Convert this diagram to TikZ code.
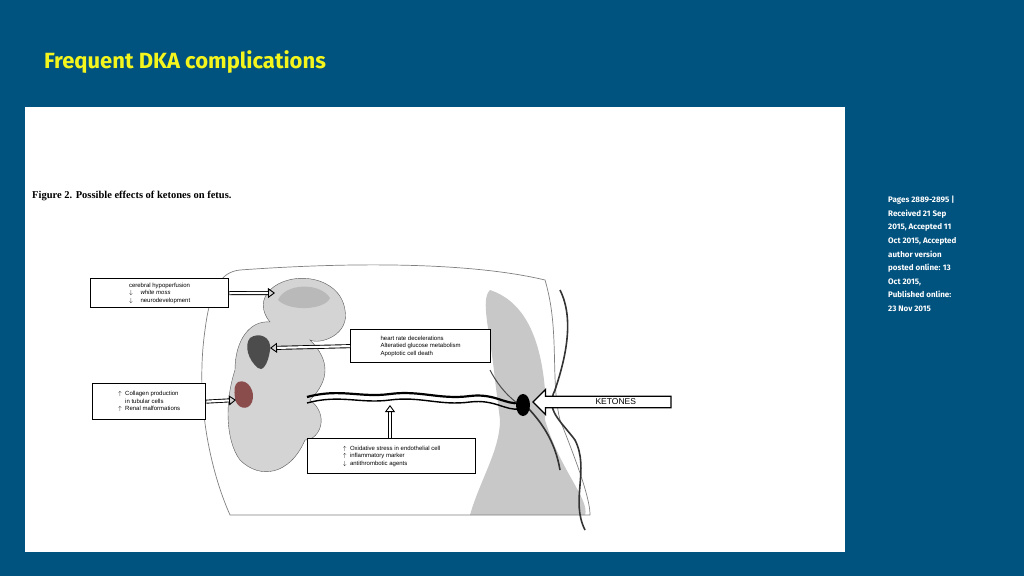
\documentclass[tikz,border=0pt]{standalone}
\usepackage{fontspec}
\setmainfont{Liberation Serif}
\newfontfamily\fira{Fira Sans}
\newfontfamily\lsans{Liberation Sans}
\usetikzlibrary{shapes.arrows}
\definecolor{bg}{HTML}{00527F}
\definecolor{ttl}{HTML}{F5F51E}
\definecolor{fet}{HTML}{D4D4D4}
\definecolor{ut}{HTML}{C8C8C8}
\tikzset{
 lbl/.style={draw=black,line width=1.3pt,fill=white,align=left,font=\lsans\fontsize{6}{7.5}\selectfont,inner sep=3pt,anchor=north west},
 dbl/.style={double=white,double distance=2.2pt,line width=0.9pt,-{Triangle[open,length=7pt,width=10pt]}},
 info/.style={font=\fira\bfseries\fontsize{8}{13.6}\selectfont,text=white,align=left,anchor=north west,inner sep=0pt}
}
\usetikzlibrary{arrows.meta}
\begin{document}
\begin{tikzpicture}[x=1pt,y=-1pt]
\fill[bg] (0,0) rectangle (1024,576);
\useasboundingbox (0,0) rectangle (1024,576);
\node[anchor=west,text=ttl,font=\fira\bfseries\fontsize{22}{24}\selectfont,inner sep=0pt] (title) at (44,62) {Frequent DKA complications};
\fill[white] (25,107) rectangle (845,552);
\node[anchor=west,font=\bfseries\fontsize{10.5}{12}\selectfont,inner sep=0pt] (cap) at (32,196) {Figure 2. Possible effects of ketones on fetus.};
% uterus
\fill[ut] (490,290) .. controls (520,300) and (540,330) .. (545,390) -- (545,420) .. controls (560,470) and (590,500) .. (585,515) -- (470,515) .. controls (480,480) and (500,450) .. (500,420) -- (495,380) .. controls (490,330) and (480,300) .. (490,290) -- cycle;
% amniotic outline
\draw[gray,line width=0.7pt] (240,270) .. controls (350,262) and (470,262) .. (545,280) .. controls (560,330) and (550,380) .. (560,420) .. controls (580,470) and (590,500) .. (590,515) -- (230,515) .. controls (210,470) and (195,400) .. (205,330) .. controls (210,290) and (220,272) .. (240,270) -- cycle;
% fetus
\fill[fet] (270,290) .. controls (290,270) and (340,275) .. (345,310) .. controls (350,335) and (320,345) .. (310,340)
 .. controls (330,360) and (330,380) .. (310,400) .. controls (330,415) and (320,440) .. (305,440)
 .. controls (290,475) and (260,480) .. (240,460) .. controls (225,440) and (225,400) .. (235,370)
 .. controls (235,340) and (250,320) .. (270,322) .. controls (260,310) and (262,298) .. (270,290) -- cycle;
\draw[gray!70!black,line width=0.4pt] (270,290) .. controls (290,270) and (340,275) .. (345,310) .. controls (350,335) and (320,345) .. (310,340)
 .. controls (330,360) and (330,380) .. (310,400) .. controls (330,415) and (320,440) .. (305,440)
 .. controls (290,475) and (260,480) .. (240,460) .. controls (225,440) and (225,400) .. (235,370)
 .. controls (235,340) and (250,320) .. (270,322) .. controls (260,310) and (262,298) .. (270,290);
% brain, heart, kidney
\fill[gray!55] (278,300) .. controls (285,283) and (320,282) .. (330,298) .. controls (325,310) and (290,312) .. (278,300) -- cycle;
\fill[gray!60!black] (250,338) .. controls (258,332) and (272,336) .. (270,350) .. controls (268,365) and (262,372) .. (258,368) .. controls (248,360) and (244,345) .. (250,338) -- cycle;
\fill[red!35!black!70] (238,382) .. controls (248,378) and (256,392) .. (252,402) .. controls (248,412) and (236,408) .. (235,398) .. controls (234,390) and (234,385) .. (238,382) -- cycle;
% cord
\draw[black,line width=2.2pt] (307,397) .. controls (340,388) and (360,398) .. (390,394) .. controls (420,390) and (440,400) .. (470,396) .. controls (495,393) and (505,405) .. (520,403);
\draw[black,line width=1.4pt] (307,403) .. controls (340,394) and (360,404) .. (390,400) .. controls (420,396) and (440,406) .. (470,402) .. controls (495,399) and (505,411) .. (520,409);
\draw[gray!60!black,line width=1pt] (520,405) .. controls (505,395) and (495,380) .. (490,370);
% right vessels
\draw[black!80,line width=1.6pt] (560,290) .. controls (575,320) and (565,360) .. (555,390) .. controls (545,410) and (560,420) .. (575,440) .. controls (590,470) and (570,500) .. (585,530);
\draw[black!80,line width=1.6pt] (525,405) .. controls (540,420) and (555,440) .. (560,470);
\fill[black] (523,405) ellipse (7pt and 11pt);
% boxes
\node[lbl,minimum width=138pt,minimum height=29pt] (b1) at (90,278) {cerebral hypoperfusion\\$\downarrow$\quad\ \textit{white moss}\\$\downarrow$\quad\ neurodevelopment};
\node[lbl,minimum width=140pt,minimum height=33pt] (b2) at (350,329) {heart rate decelerations\\Alteratied glucose metabolism\\Apoptotic cell death};
\node[lbl,minimum width=113pt,minimum height=36pt] (b3) at (92,383) {$\uparrow$\ \ Collagen production\\\phantom{$\uparrow$}\ \ in tubular cells\\$\uparrow$\ \ Renal malformations};
\node[lbl,minimum width=168pt,minimum height=35pt] (b4) at (307,438) {$\uparrow$\ \ Oxidative stress in endothelial cell\\$\uparrow$\ \ inflammatory marker\\$\downarrow$\ \ antithrombotic agents};
\coordinate (brain) at (275,293);
\coordinate (heart) at (270,348);
\coordinate (kid) at (236,400);
\coordinate (cord) at (390,405);
\draw[dbl] (b1.east) -- (brain);
\draw[dbl] (b2.west) -- (heart);
\draw[dbl] (b3.east) -- (kid);
\draw[dbl] (b4.north -| cord) -- (cord);
\node[single arrow,shape border rotate=180,draw=black,line width=1.3pt,fill=white,minimum height=138pt,minimum width=22pt,single arrow head extend=7pt,font=\lsans\fontsize{8.5}{10}\selectfont,inner sep=2pt,anchor=tip] (ket) at (532,402) {\hspace{22pt}KETONES};
\node[info] (info) at (888,196) {Pages 2889-2895 |\\Received 21 Sep\\2015, Accepted 11\\Oct 2015, Accepted\\author version\\posted online: 13\\Oct 2015,\\Published online:\\23 Nov 2015};
\end{tikzpicture}
\end{document}
